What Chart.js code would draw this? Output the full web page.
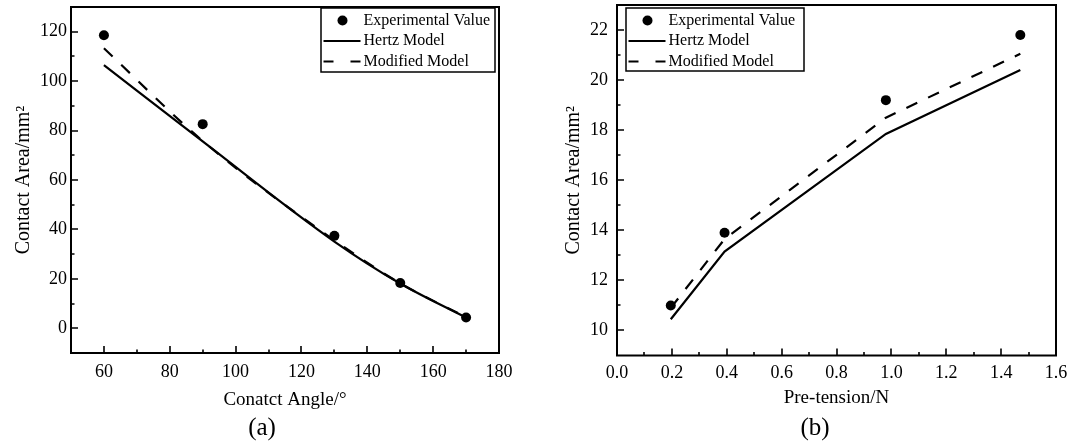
<!DOCTYPE html>
<html lang="en">
<head>
  <meta charset="UTF-8">
  <title>Contact Area vs Angle and Pre-tension</title>
  <script src="https://cdn.jsdelivr.net/npm/chart.js"></script>
  <style>
    html, body { margin: 0; padding: 0; background: #fff; }
    body {
      width: 1069px;
      height: 442px;
      position: relative;
      overflow: hidden;
      font-family: "Liberation Serif", "Times New Roman", serif;
    }
    .panel { position: absolute; top: 0; height: 442px; }
    #panelA { left: 0; width: 530px; }
    #panelB { left: 530px; width: 539px; }
    .caption {
      position: absolute;
      top: 413px;
      font-size: 25px;
      line-height: 28px;
      color: #000;
      transform: translateX(-50%);
    }
  </style>
</head>
<body>
  <div class="panel" id="panelA"><canvas id="chartA"></canvas></div>
  <div class="panel" id="panelB"><canvas id="chartB"></canvas></div>
  <div class="caption" style="left:262px">(a)</div>
  <div class="caption" style="left:815px">(b)</div>

  <script>
    // (a) contact area vs contact angle
    const angles = [60, 90, 130, 150, 170];
    const expA = [118.6, 82.6, 37.4, 18.3, 4.4];
    const hertzA = [106.5, 75.6, 35.1, 18.1, 4.3];
    const modifiedA = [113.3, 75.8, 35.6, 18.2, 4.5];
    const angleTicks = [60, 80, 100, 120, 140, 160, 180];
    const areaTicksA = [0, 20, 40, 60, 80, 100, 120];

    // (b) contact area vs pre-tension
    const tensions = [0.196, 0.392, 0.98, 1.47];
    const expB = [11.0, 13.9, 19.2, 21.8];
    const hertzB = [10.45, 13.15, 17.85, 20.4];
    const modifiedB = [10.9, 13.65, 18.5, 21.05];
    const tensionTicks = [0, 0.2, 0.4, 0.6, 0.8, 1.0, 1.2, 1.4, 1.6];
    const areaTicksB = [10, 12, 14, 16, 18, 20, 22];

    const labels = ['Experimental Value', 'Hertz Model', 'Modified Model'];

    const FONT = '"Liberation Serif", "Times New Roman", serif';
    Chart.defaults.font.family = FONT;
    Chart.defaults.color = '#000';

    const pts = (xs, ys) => xs.map((x, i) => ({ x: x, y: ys[i] }));

    // closed frame + inward major/minor ticks
    const axisFrame = {
      id: 'axisFrame',
      afterDatasetsDraw(chart, args, o) {
        const { ctx, chartArea: a, scales } = chart;
        const sx = scales.x, sy = scales.y;
        ctx.save();
        ctx.strokeStyle = '#000';
        ctx.lineWidth = 1.6;
        ctx.beginPath();
        const marks = (scale, step) => {
          const out = [];
          scale.ticks.forEach(t => {
            out.push([t.value, 7]);
            [t.value - step / 2, t.value + step / 2].forEach(v => {
              if (v > scale.min + 1e-9 && v < scale.max - 1e-9) out.push([v, 3.5]);
            });
          });
          return out;
        };
        marks(sx, o.xStep).forEach(([v, len]) => {
          const px = Math.round(sx.getPixelForValue(v));
          ctx.moveTo(px, a.bottom);
          ctx.lineTo(px, a.bottom - len);
        });
        marks(sy, o.yStep).forEach(([v, len]) => {
          const py = Math.round(sy.getPixelForValue(v));
          ctx.moveTo(a.left, py);
          ctx.lineTo(a.left + len, py);
        });
        ctx.stroke();
        ctx.lineWidth = 2;
        ctx.strokeRect(a.left, a.top, a.right - a.left, a.bottom - a.top);
        ctx.restore();
      }
    };

    // framed legend inside the plot
    const boxLegend = {
      id: 'boxLegend',
      afterDraw(chart, args, o) {
        const { ctx } = chart;
        ctx.save();
        ctx.fillStyle = '#fff';
        ctx.fillRect(o.left, o.top, o.width, o.height);
        ctx.strokeStyle = '#000';
        ctx.lineWidth = 1.5;
        ctx.strokeRect(o.left, o.top, o.width, o.height);
        ctx.font = '16px ' + FONT;
        ctx.fillStyle = '#000';
        ctx.textBaseline = 'middle';
        const rows = [12.5, 33, 53.5];
        chart.data.datasets.forEach((ds, i) => {
          const y = o.top + rows[i];
          if (ds.showLine === false) {
            ctx.beginPath();
            ctx.arc(o.left + 21.5, y, ds.pointRadius, 0, Math.PI * 2);
            ctx.fill();
          } else {
            ctx.lineWidth = 2.2;
            ctx.setLineDash(ds.borderDash && ds.borderDash.length ? [10, 17] : []);
            ctx.beginPath();
            ctx.moveTo(o.left + 2.5, y);
            ctx.lineTo(o.left + 39.5, y);
            ctx.stroke();
            ctx.setLineDash([]);
          }
          ctx.fillText(ds.label, o.left + 42.5, y);
        });
        ctx.restore();
      }
    };

    function datasets(xs, exp, hertz, modified, smooth) {
      const mode = smooth ? 'monotone' : 'default';
      return [
        { label: labels[0], data: pts(xs, exp), showLine: false, pointRadius: 5,
          pointBackgroundColor: '#000', pointBorderColor: '#000', pointBorderWidth: 0 },
        { label: labels[1], data: pts(xs, hertz), showLine: true, pointRadius: 0,
          borderColor: '#000', borderWidth: 2.2, cubicInterpolationMode: mode },
        { label: labels[2], data: pts(xs, modified), showLine: true, pointRadius: 0,
          borderColor: '#000', borderWidth: 2.2, borderDash: [12, 12], cubicInterpolationMode: mode }
      ];
    }

    function makeChart(id, cfg) {
      const tickFont = { family: FONT, size: 18 };
      const titleFont = { family: FONT, size: 20 };
      return new Chart(document.getElementById(id), {
        type: 'scatter',
        data: { datasets: cfg.datasets },
        plugins: [axisFrame, boxLegend],
        options: {
          responsive: true,
          maintainAspectRatio: false,
          animation: false,
          layout: { padding: cfg.padding },
          plugins: {
            legend: { display: false },
            tooltip: { enabled: false },
            axisFrame: { xStep: cfg.xStep, yStep: cfg.yStep },
            boxLegend: cfg.legend
          },
          scales: {
            x: {
              type: 'linear',
              min: cfg.xMin,
              max: cfg.xMax,
              grid: { display: false, drawTicks: false },
              border: { display: false },
              afterBuildTicks: s => { s.ticks = cfg.xTicks.map(v => ({ value: v })); },
              afterFit: s => { s.height = cfg.xHeight; s.paddingLeft = 0; s.paddingRight = 0; },
              ticks: {
                padding: cfg.xTickPad,
                color: '#000',
                font: tickFont,
                maxRotation: 0,
                autoSkip: false,
                callback: cfg.xFormat
              },
              title: {
                display: true,
                text: cfg.xTitle,
                color: '#000',
                font: { family: FONT, size: 19 },
                padding: { top: 0, bottom: cfg.xTitlePad }
              }
            },
            y: {
              type: 'linear',
              min: cfg.yMin,
              max: cfg.yMax,
              grid: { display: false, drawTicks: false },
              border: { display: false },
              afterBuildTicks: s => { s.ticks = cfg.yTicks.map(v => ({ value: v })); },
              afterFit: s => { s.width = cfg.yWidth; s.paddingTop = 0; s.paddingBottom = 0; },
              ticks: {
                padding: cfg.yTickPad,
                color: '#000',
                font: tickFont,
                autoSkip: false
              },
              title: {
                display: true,
                text: 'Contact Area/mm²',
                color: '#000',
                font: titleFont,
                padding: { top: cfg.yTitlePad, bottom: 0 }
              }
            }
          }
        }
      });
    }

    makeChart('chartA', {
      datasets: datasets(angles, expA, hertzA, modifiedA, true),
      padding: { top: 7, right: 31, left: 0, bottom: 0 },
      xMin: 50, xMax: 180, yMin: -10, yMax: 130,
      xTicks: angleTicks, yTicks: areaTicksA,
      xStep: 20, yStep: 20,
      xHeight: 89, yWidth: 71,
      xTickPad: 8, yTickPad: 4,
      xTitlePad: 31, yTitlePad: 12,
      xTitle: 'Conatct Angle/°',
      xFormat: v => String(v),
      legend: { left: 321, top: 8, width: 174, height: 64 }
    });

    makeChart('chartB', {
      datasets: datasets(tensions, expB, hertzB, modifiedB, false),
      padding: { top: 3, right: 13, left: 0, bottom: 0 },
      xMin: 0, xMax: 1.6, yMin: 9, yMax: 23,
      xTicks: tensionTicks, yTicks: areaTicksB,
      xStep: 0.2, yStep: 2,
      xHeight: 86.5, yWidth: 87,
      xTickPad: 7, yTickPad: 9,
      xTitlePad: 33, yTitlePad: 32,
      xTitle: 'Pre-tension/N',
      xFormat: v => Number(v).toFixed(1),
      legend: { left: 96, top: 8, width: 178, height: 63 }
    });
  </script>
</body>
</html>
